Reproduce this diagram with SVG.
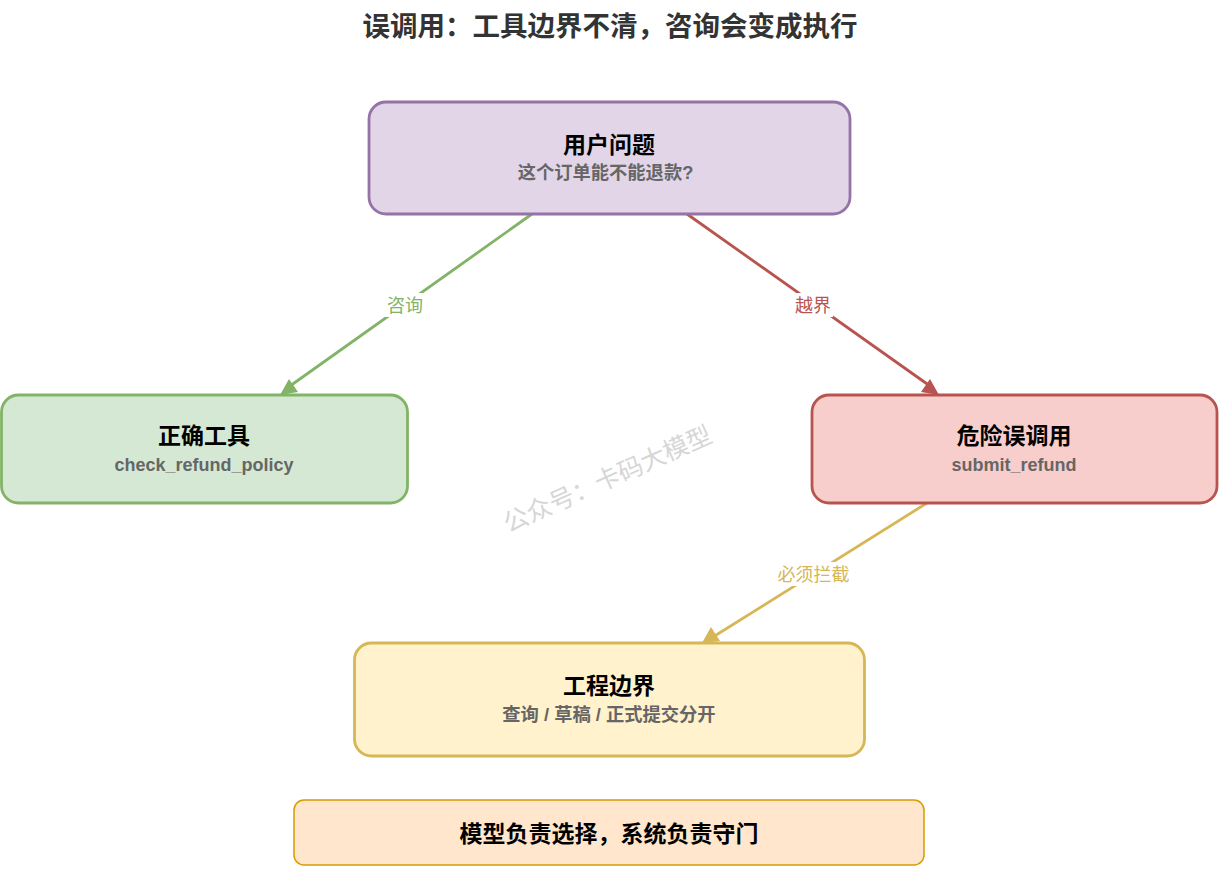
<svg xmlns="http://www.w3.org/2000/svg" width="1220" height="869" viewBox="0 0 1220 869">
<style>
text{font-family:"Liberation Sans","Noto Sans CJK SC",sans-serif;text-anchor:middle}
.t{font-size:23px;font-weight:bold;fill:#000}
.s{font-size:18px;font-weight:bold;fill:#666}
.z{font-size:18.300px}
.l{font-size:18px}
.n{stroke-width:2.800}
.c{fill:none;stroke-width:2.800}
</style>
<rect width="1220" height="869" fill="#fff"/>
<text x="610" y="36" style="font-size:27.500px;font-weight:bold;fill:#333">误调用：工具边界不清，咨询会变成执行</text>
<g id="connectors">
<path class="c" stroke="#82b366" d="M532 214L290 386"/><path d="M280 395L289 379L298 392Z" fill="#82b366"/>
<path class="c" stroke="#b85450" d="M687 214L930 386"/><path d="M939 395L921 392L930 379Z" fill="#b85450"/>
<path class="c" stroke="#d6b656" d="M927 503L713 637"/><path d="M702 643L711 627L720 641Z" fill="#d6b656"/>
<rect x="385" y="293" width="40" height="24" fill="#fff"/>
<rect x="793" y="293" width="40" height="24" fill="#fff"/>
<rect x="776" y="562" width="75" height="24" fill="#fff"/>
<text class="l" x="405" y="311.500" fill="#82b366">咨询</text>
<text class="l" x="813" y="311.500" fill="#b85450">越界</text>
<text class="l" x="813.500" y="580.500" fill="#d6b656">必须拦截</text>
</g>
<g id="user"><rect class="n" x="369" y="102" width="481" height="112" rx="17" fill="#e1d5e7" stroke="#9673a6"/><text class="t" x="609" y="152.500">用户问题</text><text class="s z" x="605.500" y="179">这个订单能不能退款?</text></g>
<g id="correct"><rect class="n" x="1.500" y="395" width="406" height="108" rx="17" fill="#d5e8d4" stroke="#82b366"/><text class="t" x="204" y="443.500">正确工具</text><text class="s" x="204" y="470.500">check_refund_policy</text></g>
<g id="danger"><rect class="n" x="812" y="395" width="405" height="108" rx="17" fill="#f8cecc" stroke="#b85450"/><text class="t" x="1014" y="443.500">危险误调用</text><text class="s" x="1014" y="470.500">submit_refund</text></g>
<g id="boundary"><rect class="n" x="354.500" y="643" width="510" height="113" rx="17" fill="#fff2cc" stroke="#d6b656"/><text class="t" x="609" y="693.500">工程边界</text><text class="s z" x="609" y="721">查询 / 草稿 / 正式提交分开</text></g>
<g id="summary"><rect x="294" y="800" width="630" height="65" rx="10" fill="#ffe6cc" stroke="#d79b00" stroke-width="1.500"/><text x="609" y="842" style="font-size:23px;font-weight:bold;fill:#000">模型负责选择，系统负责守门</text></g>
<text x="611" y="487" transform="rotate(-24 611 487)" style="font-size:25px;fill:#d6d6d6">公众号：卡码大模型</text>
</svg>
